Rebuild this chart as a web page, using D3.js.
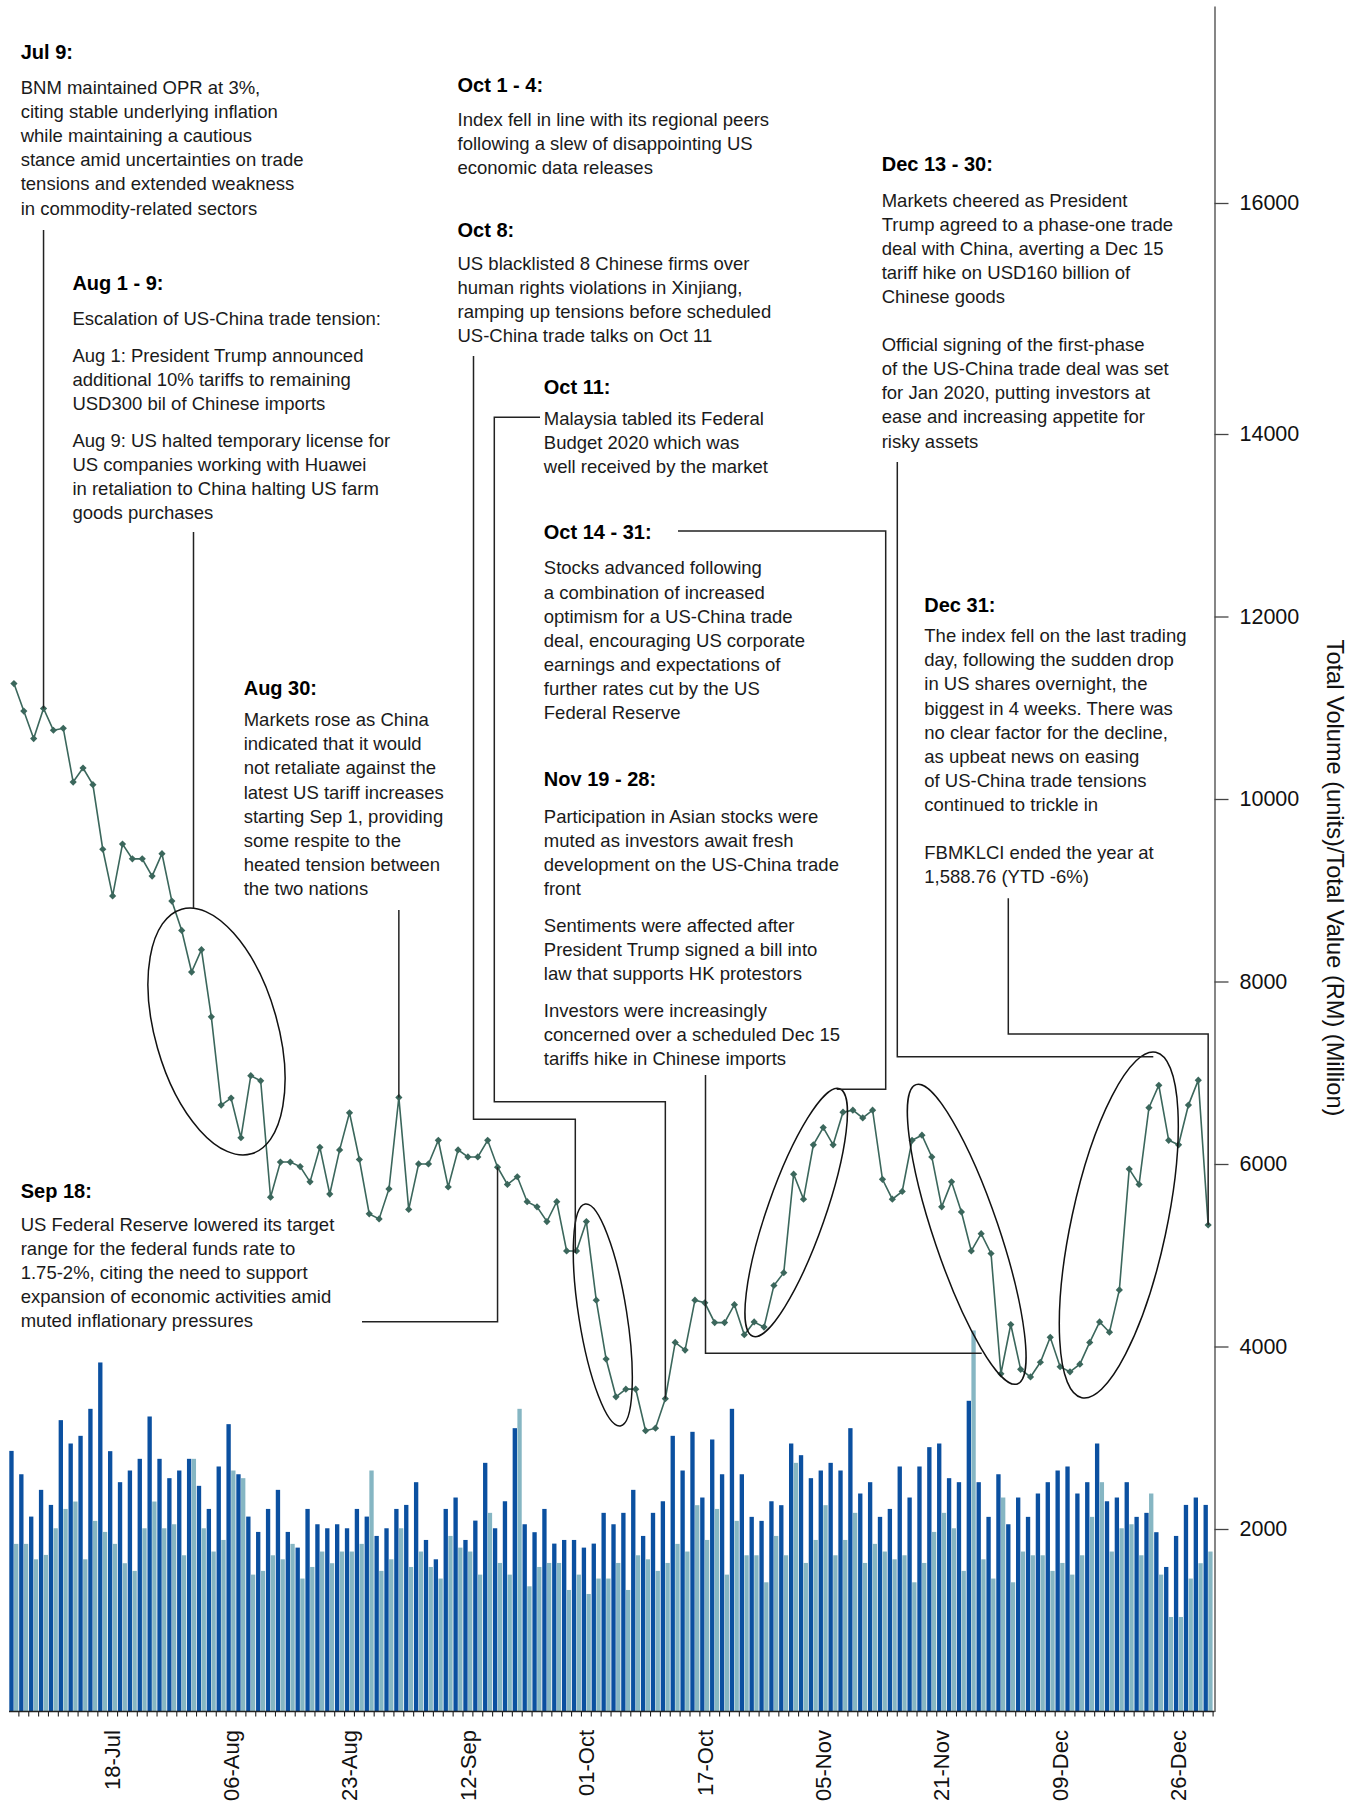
<!DOCTYPE html>
<html>
<head>
<meta charset="utf-8">
<script src="https://cdn.jsdelivr.net/npm/d3@7"></script>
<style>
  html, body { margin: 0; padding: 0; background: #fff; }
  svg { display: block; font-family: "Liberation Sans", Arial, Helvetica, sans-serif; }
</style>
</head>
<body>
<div id="chart"></div>
<script>
// Trading days, Jul - Dec 2019
const dates = [
  '04-Jul','05-Jul','08-Jul','09-Jul','10-Jul','11-Jul','12-Jul','15-Jul','16-Jul','17-Jul',
  '18-Jul','19-Jul','22-Jul','23-Jul','24-Jul','25-Jul','26-Jul','29-Jul','30-Jul','01-Aug',
  '02-Aug','05-Aug','06-Aug','07-Aug','08-Aug','09-Aug','13-Aug','14-Aug','15-Aug','16-Aug',
  '19-Aug','20-Aug','21-Aug','22-Aug','23-Aug','26-Aug','27-Aug','28-Aug','29-Aug','30-Aug',
  '03-Sep','04-Sep','05-Sep','06-Sep','10-Sep','11-Sep','12-Sep','13-Sep','17-Sep','18-Sep',
  '19-Sep','20-Sep','23-Sep','24-Sep','25-Sep','26-Sep','27-Sep','30-Sep','01-Oct','02-Oct',
  '03-Oct','04-Oct','07-Oct','08-Oct','09-Oct','10-Oct','11-Oct','14-Oct','15-Oct','16-Oct',
  '17-Oct','18-Oct','21-Oct','22-Oct','23-Oct','24-Oct','25-Oct','29-Oct','30-Oct','31-Oct',
  '01-Nov','04-Nov','05-Nov','06-Nov','07-Nov','08-Nov','11-Nov','12-Nov','13-Nov','14-Nov',
  '15-Nov','18-Nov','19-Nov','20-Nov','21-Nov','22-Nov','25-Nov','26-Nov','27-Nov','28-Nov',
  '29-Nov','02-Dec','03-Dec','04-Dec','05-Dec','06-Dec','09-Dec','10-Dec','11-Dec','12-Dec',
  '13-Dec','16-Dec','17-Dec','18-Dec','19-Dec','20-Dec','23-Dec','24-Dec','26-Dec','27-Dec',
  '30-Dec','31-Dec'
];

// Total volume (million units) - dark bars
const volume = [
  2856,2600,2136,2429,2264,3193,2937,3021,3317,3825,
  2853,2513,2641,2769,3233,2769,2557,2641,2769,2473,
  2220,2685,3149,2600,2136,1968,2220,2429,1968,1796,
  2220,2052,2008,2052,2008,2220,2136,1924,2008,2220,
  2264,2513,1880,1668,2220,2345,1880,2092,2725,2008,
  2304,3105,2052,1965,2220,1840,1880,1880,1796,1840,
  2177,2052,2177,2429,1924,2177,2304,3021,2641,3065,
  2345,2981,2600,3317,2600,2133,2089,2304,2261,2937,
  2809,2557,2641,2725,2641,3105,2389,2513,2133,2220,
  2685,2345,2685,2897,2937,2557,2513,3405,2513,2133,
  2600,2052,2345,2133,2389,2513,2641,2685,2389,2513,
  2937,2304,2345,2513,2133,2177,1965,1584,1924,2264,
  2345,2264
];

// Total value (RM million) - light bars
const value = [
  1837,1837,1668,1716,2008,2220,2301,1668,2089,1968,
  1837,1625,1541,2008,2301,2008,2052,1712,2769,2008,
  1753,1880,2641,2557,1500,1541,1712,1668,1837,1457,
  1584,1753,1625,1753,1753,1837,2641,1541,1668,2008,
  1584,1753,1584,1457,1924,1796,1753,1500,2177,1628,
  1500,3317,1372,1584,1628,1628,1332,1500,1288,1457,
  1457,1628,1332,1712,1668,1541,1628,1837,1753,2261,
  1880,2220,1500,2089,1712,1712,1416,1924,1712,2725,
  1628,1880,2261,1712,1880,2177,1628,1837,1753,1668,
  1712,1416,1628,1968,2177,2008,1541,4176,1668,1457,
  2345,1416,1753,1712,1712,1541,1628,1500,1712,2133,
  2513,1753,2008,2052,1712,2389,1500,1036,1036,1457,
  1625,1753
];

// FBMKLCI close
const klci = [
  1673.4,1669.1,1664.8,1669.5,1666.1,1666.4,1658.0,1660.2,1657.6,1647.5,
  1640.2,1648.3,1646.0,1646.0,1643.3,1646.8,1639.4,1634.8,1628.3,1631.8,
  1621.3,1607.5,1608.6,1602.4,1612.1,1611.3,1593.1,1598.6,1598.6,1597.9,
  1595.5,1600.9,1593.6,1600.5,1606.3,1599.0,1590.5,1589.7,1594.4,1608.7,
  1591.2,1598.3,1598.3,1602.0,1594.7,1600.5,1599.4,1599.4,1602.0,1597.8,
  1595.1,1596.3,1592.4,1591.6,1589.3,1592.4,1584.7,1584.7,1589.3,1577.0,
  1567.8,1561.9,1563.1,1563.1,1556.6,1557.0,1561.6,1570.4,1569.2,1577.0,
  1576.6,1573.5,1573.5,1576.3,1571.6,1573.6,1572.8,1579.3,1581.3,1596.7,
  1592.8,1601.3,1604.0,1601.3,1606.4,1606.7,1605.5,1606.7,1595.9,1592.8,
  1594.0,1602.0,1602.8,1599.4,1591.6,1595.5,1590.8,1584.7,1587.4,1584.3,
  1565.5,1573.2,1566.2,1565.0,1567.3,1571.2,1566.6,1565.8,1567.0,1570.4,
  1573.6,1572.0,1578.6,1597.5,1595.1,1607.1,1610.6,1602.0,1601.3,1607.5,
  1611.4,1588.76
];

const xLabels = ['18-Jul','06-Aug','23-Aug','12-Sep','01-Oct','17-Oct','05-Nov','21-Nov','09-Dec','26-Dec'];
const yTicks = [2000, 4000, 6000, 8000, 10000, 12000, 14000, 16000];
const yTitle = 'Total Volume (units)/Total Value (RM) (Million)';

// annotation text blocks
const notes = [
  { x: 20.7, ty: 58.7, by: 94, title: 'Jul 9:', gap: 0, paras: [[
    'BNM maintained OPR at 3%,', 'citing stable underlying inflation', 'while maintaining a cautious',
    'stance amid uncertainties on trade', 'tensions and extended weakness', 'in commodity-related sectors']] },
  { x: 72.4, ty: 289.8, by: 325, title: 'Aug 1 - 9:', gap: 12.6, paras: [
    ['Escalation of US-China trade tension:'],
    ['Aug 1: President Trump announced', 'additional 10% tariffs to remaining', 'USD300 bil of Chinese imports'],
    ['Aug 9: US halted temporary license for', 'US companies working with Huawei',
     'in retaliation to China halting US farm', 'goods purchases']] },
  { x: 243.7, ty: 694.5, by: 726.2, title: 'Aug 30:', gap: 0, paras: [[
    'Markets rose as China', 'indicated that it would', 'not retaliate against the', 'latest US tariff increases',
    'starting Sep 1, providing', 'some respite to the', 'heated tension between', 'the two nations']] },
  { x: 20.7, ty: 1198, by: 1230.8, title: 'Sep 18:', gap: 0, paras: [[
    'US Federal Reserve lowered its target', 'range for the federal funds rate to',
    '1.75-2%, citing the need to support', 'expansion of economic activities amid', 'muted inflationary pressures']] },
  { x: 457.5, ty: 92.1, by: 126.1, title: 'Oct 1 - 4:', gap: 0, paras: [[
    'Index fell in line with its regional peers', 'following a slew of disappointing US', 'economic data releases']] },
  { x: 457.5, ty: 236.9, by: 269.8, title: 'Oct 8:', gap: 0, paras: [[
    'US blacklisted 8 Chinese firms over', 'human rights violations in Xinjiang,',
    'ramping up tensions before scheduled', 'US-China trade talks on Oct 11']] },
  { x: 543.8, ty: 394.4, by: 425, title: 'Oct 11:', gap: 0, paras: [[
    'Malaysia tabled its Federal', 'Budget 2020 which was', 'well received by the market']] },
  { x: 543.8, ty: 539.3, by: 574.4, title: 'Oct 14 - 31:', gap: 0, paras: [[
    'Stocks advanced following', 'a combination of increased', 'optimism for a US-China trade',
    'deal, encouraging US corporate', 'earnings and expectations of', 'further rates cut by the US', 'Federal Reserve']] },
  { x: 543.8, ty: 786.4, by: 822.7, title: 'Nov 19 - 28:', gap: 12.6, paras: [
    ['Participation in Asian stocks were', 'muted as investors await fresh', 'development on the US-China trade', 'front'],
    ['Sentiments were affected after', 'President Trump signed a bill into', 'law that supports HK protestors'],
    ['Investors were increasingly', 'concerned over a scheduled Dec 15', 'tariffs hike in Chinese imports']] },
  { x: 881.7, ty: 171.4, by: 206.5, title: 'Dec 13 - 30:', gap: 24.1, paras: [
    ['Markets cheered as President', 'Trump agreed to a phase-one trade', 'deal with China, averting a Dec 15',
     'tariff hike on USD160 billion of', 'Chinese goods'],
    ['Official signing of the first-phase', 'of the US-China trade deal was set', 'for Jan 2020, putting investors at',
     'ease and increasing appetite for', 'risky assets']] },
  { x: 924.3, ty: 611.7, by: 642.2, title: 'Dec 31:', gap: 24.1, paras: [
    ['The index fell on the last trading', 'day, following the sudden drop', 'in US shares overnight, the',
     'biggest in 4 weeks. There was', 'no clear factor for the decline,', 'as upbeat news on easing',
     'of US-China trade tensions', 'continued to trickle in'],
    ['FBMKLCI ended the year at', '1,588.76 (YTD -6%)']] }
];

// leader lines; p = anchored data point when "to" is set
const callouts = [
  { to: '09-Jul', path: p => [[p[0], 230], p] },
  { path: () => [[193.5, 532], [193.5, 908]] },
  { to: '30-Aug', path: p => [[p[0], 910], p] },
  { path: () => [[473.5, 356], [473.5, 1119.3], [575.3, 1119.3], [575.3, 1253]] },
  { to: '11-Oct', path: p => [[540, 417.3], [494.3, 417.3], [494.3, 1101.7], [p[0], 1101.7], p] },
  { to: '18-Sep', path: p => [[362, 1321.7], [p[0], 1321.7], p] },
  { path: () => [[678, 531], [885.7, 531], [885.7, 1089.3], [836.7, 1089.3]] },
  { path: () => [[705.5, 1075], [705.5, 1353.3], [981.7, 1353.3]] },
  { path: () => [[897.3, 462], [897.3, 1056.7], [1153.3, 1056.7]] },
  { to: '31-Dec', path: p => [[1008.3, 898.3], [1008.3, 1034], [p[0], 1034], p] }
];

// highlight ellipses: centre, radii, rotation
const ellipses = [
  { cx: 216.5, cy: 1031.5, rx: 61.3, ry: 127.2, rot: -15.9 },
  { cx: 602.8, cy: 1315, rx: 24, ry: 112.3, rot: -9 },
  { cx: 796.2, cy: 1212.5, rx: 28.9, ry: 131.2, rot: 19.3 },
  { cx: 966.7, cy: 1234.3, rx: 32.6, ry: 158, rot: -18.7 },
  { cx: 1118.8, cy: 1225, rx: 47.6, ry: 176.6, rot: 12.1 }
];

const W = 1360, H = 1803;
const DARK = '#0b50a0', LIGHT = '#86b6c3', LINE = '#3b675c', INK = '#1a1a1a';
const LH = 24.1;

const svg = d3.select('#chart').append('svg')
  .attr('width', W)
  .attr('height', H);

svg.append('rect').attr('width', W).attr('height', H).attr('fill', '#fff');

const x = d3.scaleBand().domain(dates).range([9, 1213.1]);
const bw = x.bandwidth();
const yBar = d3.scaleLinear().domain([0, 14000, 16000, 17700]).range([1711.5, 434, 203, 6]);
// index has no visible axis
const yIdx = d3.scaleLinear().domain([1540, 1700]).range([1536.9, 513.4]);

// bars
const bars = svg.append('g').attr('class', 'bars');
bars.selectAll('.vol')
  .data(dates)
  .enter()
  .append('rect')
  .attr('class', 'vol')
  .attr('x', d => x(d) + 0.3)
  .attr('y', (d, i) => yBar(volume[i]))
  .attr('width', bw / 2 - 0.6)
  .attr('height', (d, i) => yBar(0) - yBar(volume[i]))
  .attr('fill', DARK);

bars.selectAll('.val')
  .data(dates)
  .enter()
  .append('rect')
  .attr('class', 'val')
  .attr('x', d => x(d) + bw / 2 + 0.1)
  .attr('y', (d, i) => yBar(value[i]))
  .attr('width', bw / 2 - 0.6)
  .attr('height', (d, i) => yBar(0) - yBar(value[i]))
  .attr('fill', LIGHT);

// right axis
const yAxis = svg.append('g')
  .attr('transform', 'translate(1214.5,0)')
  .call(d3.axisRight(yBar).tickValues(yTicks).tickSize(14).tickSizeOuter(0).tickPadding(11).tickFormat(d3.format('d')));
yAxis.select('.domain').attr('stroke', '#444').attr('stroke-width', 1.3);
yAxis.selectAll('.tick line').attr('stroke', '#444').attr('stroke-width', 1.3);
yAxis.selectAll('.tick text')
  .attr('font-size', 21.5)
  .attr('font-family', '"Liberation Sans", Arial, sans-serif')
  .attr('fill', '#111');

svg.append('text')
  .attr('transform', 'translate(1327,878) rotate(90)')
  .attr('text-anchor', 'middle')
  .attr('font-size', 23.6)
  .attr('fill', '#111')
  .text(yTitle);

// bottom axis
const xAxis = svg.append('g').attr('class', 'x-axis');
xAxis.append('line')
  .attr('x1', 9).attr('x2', 1214.5)
  .attr('y1', yBar(0)).attr('y2', yBar(0))
  .attr('stroke', '#222').attr('stroke-width', 1.3);
xAxis.selectAll('.tk')
  .data(dates.slice(1).concat(['__end']))
  .enter()
  .append('line')
  .attr('x1', d => d === '__end' ? 1213.1 : x(d))
  .attr('x2', d => d === '__end' ? 1213.1 : x(d))
  .attr('y1', yBar(0)).attr('y2', yBar(0) + 5)
  .attr('stroke', '#222').attr('stroke-width', 1.1);
xAxis.selectAll('.lbl')
  .data(xLabels)
  .enter()
  .append('text')
  .attr('transform', d => `translate(${x(d) + bw / 2},1730) rotate(-90)`)
  .attr('text-anchor', 'end')
  .attr('dy', '0.35em')
  .attr('font-size', 22)
  .attr('fill', '#111')
  .text(d => d);

// KLCI line with diamond markers
const pt = d => [x(d) + bw / 2, yIdx(klci[dates.indexOf(d)])];

svg.append('path')
  .datum(dates)
  .attr('fill', 'none')
  .attr('stroke', LINE)
  .attr('stroke-width', 1.6)
  .attr('d', d3.line().x(d => pt(d)[0]).y(d => pt(d)[1]));

const diamond = d3.symbol().type(d3.symbolSquare).size(26);
svg.append('g').selectAll('path')
  .data(dates)
  .enter()
  .append('path')
  .attr('d', diamond)
  .attr('transform', d => `translate(${pt(d)[0]},${pt(d)[1]}) rotate(45)`)
  .attr('fill', LINE);

// ellipses
svg.append('g').selectAll('ellipse')
  .data(ellipses)
  .enter()
  .append('ellipse')
  .attr('transform', e => `translate(${e.cx},${e.cy}) rotate(${e.rot})`)
  .attr('rx', e => e.rx)
  .attr('ry', e => e.ry)
  .attr('fill', 'none')
  .attr('stroke', '#111')
  .attr('stroke-width', 1.5);

// callout lines
svg.append('g').selectAll('path')
  .data(callouts)
  .enter()
  .append('path')
  .attr('d', c => d3.line()(c.path(c.to ? pt(c.to) : null)))
  .attr('fill', 'none')
  .attr('stroke', '#222')
  .attr('stroke-width', 1.5);

// annotation text
const txt = svg.append('g').attr('class', 'notes');
notes.forEach(n => {
  txt.append('text')
    .attr('x', n.x).attr('y', n.ty)
    .attr('font-size', 20)
    .attr('font-weight', 'bold')
    .attr('fill', '#000')
    .text(n.title);
  let y = n.by;
  n.paras.forEach((para, pi) => {
    if (pi > 0) y += n.gap;
    para.forEach(line => {
      txt.append('text')
        .attr('x', n.x).attr('y', y)
        .attr('font-size', 18.5)
        .attr('fill', INK)
        .text(line);
      y += LH;
    });
  });
});
</script>
</body>
</html>
